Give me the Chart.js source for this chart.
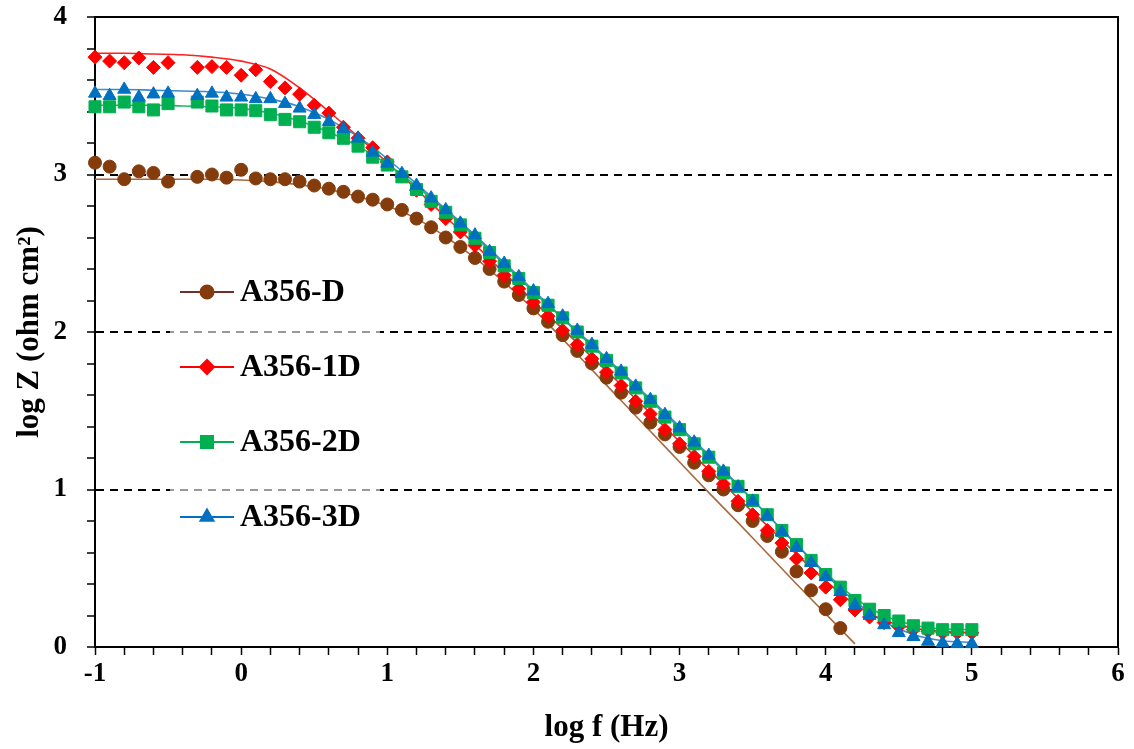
<!DOCTYPE html>
<html lang="en">
<head>
<meta charset="UTF-8">
<title>log Z vs log f</title>
<script src="https://cdn.jsdelivr.net/npm/chart.js"></script>
<style>
    html, body { margin: 0; padding: 0; background: #fff; }
    #wrap { width: 1134px; height: 749px; }
</style>
</head>
<body>
<div id="wrap"><canvas id="bodeChart" width="1134" height="749"></canvas></div>
<script>
    // measured points, log f (Hz) -- no point at -0.4
    const logF = [-1, -0.9, -0.8, -0.7, -0.6, -0.5, -0.3, -0.2, -0.1, 0,
        0.1, 0.2, 0.3, 0.4, 0.5, 0.6, 0.7, 0.8, 0.9, 1.0,
        1.1, 1.2, 1.3, 1.4, 1.5, 1.6, 1.7, 1.8, 1.9, 2.0,
        2.1, 2.2, 2.3, 2.4, 2.5, 2.6, 2.7, 2.8, 2.9, 3.0,
        3.1, 3.2, 3.3, 3.4, 3.5, 3.6, 3.7, 3.8, 3.9, 4.0,
        4.1, 4.2, 4.3, 4.4, 4.5, 4.6, 4.7, 4.8, 4.9, 5.0];

    const zD = [3.075, 3.05, 2.97, 3.02, 3.01, 2.955, 2.985, 3.00, 2.98, 3.03,
        2.975, 2.97, 2.97, 2.955, 2.93, 2.91, 2.89, 2.86, 2.84, 2.81,
        2.775, 2.72, 2.665, 2.60, 2.54, 2.47, 2.40, 2.32, 2.235, 2.15,
        2.065, 1.98, 1.88, 1.80, 1.71, 1.615, 1.52, 1.425, 1.35, 1.27,
        1.17, 1.09, 1.00, 0.90, 0.80, 0.705, 0.605, 0.48, 0.36, 0.24,
        0.12, null, null, null, null, null, null, null, null, null];

    const z1D = [3.745, 3.72, 3.71, 3.74, 3.68, 3.71, 3.68, 3.685, 3.68, 3.63,
        3.665, 3.59, 3.55, 3.51, 3.44, 3.39, 3.30, 3.23, 3.17, 3.08,
        2.99, 2.90, 2.81, 2.72, 2.635, 2.55, 2.45, 2.36, 2.275, 2.19,
        2.10, 2.01, 1.92, 1.83, 1.745, 1.66, 1.56, 1.48, 1.38, 1.29,
        1.21, 1.115, 1.035, 0.925, 0.84, 0.74, 0.66, 0.56, 0.47, 0.38,
        0.30, 0.235, 0.19, 0.155, 0.13, 0.11, 0.10, 0.09, 0.09, 0.09];

    const z2D = [3.43, 3.43, 3.46, 3.43, 3.41, 3.45, 3.46, 3.435, 3.41, 3.41,
        3.405, 3.38, 3.35, 3.335, 3.30, 3.265, 3.23, 3.18, 3.11, 3.06,
        2.985, 2.905, 2.83, 2.76, 2.68, 2.595, 2.505, 2.42, 2.34, 2.25,
        2.17, 2.09, 2.00, 1.91, 1.82, 1.74, 1.645, 1.56, 1.46, 1.38,
        1.29, 1.205, 1.105, 1.02, 0.93, 0.84, 0.74, 0.65, 0.55, 0.46,
        0.38, 0.295, 0.24, 0.20, 0.165, 0.135, 0.12, 0.11, 0.11, 0.11];

    const z3D = [3.515, 3.50, 3.54, 3.49, 3.51, 3.515, 3.50, 3.515, 3.49, 3.49,
        3.48, 3.48, 3.45, 3.42, 3.38, 3.335, 3.29, 3.23, 3.14, 3.07,
        3.005, 2.93, 2.85, 2.775, 2.69, 2.615, 2.51, 2.435, 2.35, 2.26,
        2.18, 2.10, 2.01, 1.92, 1.83, 1.75, 1.655, 1.57, 1.475, 1.39,
        1.30, 1.215, 1.115, 1.015, 0.925, 0.83, 0.73, 0.63, 0.535, 0.445,
        0.35, 0.265, 0.20, 0.14, 0.09, 0.065, 0.035, 0.025, 0.02, 0.02];

    // fitted curves (equivalent circuit)
    const fitF = [-1, -0.8, -0.6, -0.4, -0.2, 0, 0.2, 0.4, 0.6, 0.8,
        1.0, 1.2, 1.4, 1.6, 1.8, 2.0, 2.2, 2.4, 2.6, 2.8,
        3.0, 3.2, 3.4, 3.6, 3.8, 4.0, 4.2, 4.4, 4.6, 4.8, 5.0];

    const fitD = [2.97, 2.97, 2.97, 2.97, 2.97, 2.965, 2.955, 2.935, 2.905, 2.86,
        2.80, 2.72, 2.605, 2.47, 2.315, 2.145, 1.955, 1.76, 1.565, 1.37,
        1.175, 0.98, 0.79, 0.595, 0.40, 0.21, 0.02, null, null, null, null];

    const fit1D = [3.77, 3.77, 3.765, 3.76, 3.745, 3.72, 3.67, 3.55, 3.40, 3.24,
        3.075, 2.905, 2.73, 2.555, 2.375, 2.195, 2.02, 1.84, 1.665, 1.485,
        1.305, 1.125, 0.945, 0.77, 0.59, 0.42, 0.27, 0.17, 0.12, 0.10, 0.09];

    const fit2D = [3.44, 3.44, 3.44, 3.435, 3.43, 3.42, 3.39, 3.34, 3.27, 3.18,
        3.065, 2.925, 2.77, 2.605, 2.43, 2.255, 2.085, 1.91, 1.74, 1.565,
        1.39, 1.21, 1.025, 0.84, 0.65, 0.47, 0.31, 0.20, 0.14, 0.115, 0.11];

    const fit3D = [3.54, 3.54, 3.535, 3.53, 3.525, 3.51, 3.48, 3.43, 3.35, 3.24,
        3.10, 2.94, 2.78, 2.615, 2.44, 2.265, 2.09, 1.92, 1.75, 1.575,
        1.40, 1.22, 1.03, 0.84, 0.65, 0.46, 0.29, 0.16, 0.08, 0.04, 0.03];

    function pts(xs, ys) {
        return xs.map((x, i) => ({ x: x, y: ys[i] }));
    }

    const serif = "'Liberation Serif', 'Times New Roman', serif";
    Chart.defaults.font.family = serif;
    Chart.defaults.color = '#000';

    function markerSet(label, ys, color, style, r, order, legendLine) {
        return {
            label: label,
            data: pts(logF, ys),
            showLine: false,
            pointStyle: style,
            pointRadius: r,
            pointBackgroundColor: color,
            pointBorderColor: color,
            pointBorderWidth: 1,
            clip: false,
            order: order,
            legendLine: legendLine
        };
    }

    function fitSet(ys, color, order) {
        return {
            data: pts(fitF, ys),
            showLine: true,
            borderColor: color,
            borderWidth: 1.6,
            pointRadius: 0,
            cubicInterpolationMode: 'monotone',
            clip: false,
            order: order,
            isFit: true
        };
    }

    const isMajor = v => Math.abs(v - Math.round(v)) < 1e-6;

    // top/right frame + light box behind the legend
    const framePlugin = {
        id: 'frame',
        beforeDatasetsDraw(chart) {
            const { ctx, chartArea: a } = chart;
            ctx.save();
            ctx.fillStyle = 'rgba(255,255,255,0.6)';
            ctx.fillRect(a.left + 75, a.top + 250, 210, 275);
            ctx.strokeStyle = '#000';
            ctx.lineWidth = 2;
            ctx.beginPath();
            ctx.moveTo(a.left, a.top);
            ctx.lineTo(a.right, a.top);
            ctx.lineTo(a.right, a.bottom);
            ctx.stroke();
            ctx.restore();
        }
    };

    const legendPlugin = {
        id: 'insideLegend',
        afterDatasetsDraw(chart) {
            const { ctx, chartArea: a } = chart;
            const sets = chart.data.datasets.filter(d => !d.isFit);
            ctx.save();
            sets.forEach((ds, i) => {
                const y = a.top + 275 + i * 75;
                const x0 = a.left + 85;
                ctx.strokeStyle = ds.legendLine;
                ctx.lineWidth = 2;
                ctx.beginPath();
                ctx.moveTo(x0, y);
                ctx.lineTo(x0 + 54, y);
                ctx.stroke();
                ctx.fillStyle = ds.pointBackgroundColor;
                ctx.strokeStyle = ds.pointBorderColor;
                Chart.helpers.drawPoint(ctx, {
                    pointStyle: ds.pointStyle,
                    radius: ds.pointRadius,
                    borderWidth: 1
                }, x0 + 27, y);
                ctx.fillStyle = '#000';
                ctx.font = 'bold 32px ' + serif;
                ctx.textAlign = 'left';
                ctx.textBaseline = 'middle';
                ctx.fillText(ds.label, x0 + 60, y + 1);
            });
            ctx.restore();
        }
    };

    new Chart(document.getElementById('bodeChart'), {
        type: 'scatter',
        data: {
            datasets: [
                markerSet('A356-D', zD, '#843C0C', 'circle', 6.5, 4, '#70302a'),
                markerSet('A356-1D', z1D, '#FF0000', 'rectRot', 7, 3, '#FF0000'),
                markerSet('A356-2D', z2D, '#00B050', 'rect', 8.5, 2, '#00B050'),
                markerSet('A356-3D', z3D, '#0070C0', 'triangle', 7.5, 1, '#0070C0'),
                fitSet(fitD, '#A8693F', 8),
                fitSet(fit1D, '#FF2020', 7),
                fitSet(fit2D, '#20B860', 6),
                fitSet(fit3D, '#3C8AD0', 5)
            ]
        },
        options: {
            responsive: false,
            animation: false,
            layout: { padding: { left: 0, right: 16, top: 17, bottom: 0 } },
            plugins: {
                legend: { display: false },
                tooltip: { enabled: false }
            },
            scales: {
                x: {
                    type: 'linear',
                    min: -1,
                    max: 6,
                    afterFit: s => { s.height = 102; s.paddingLeft = 0; s.paddingRight = 0; },
                    ticks: {
                        stepSize: 0.2,
                        autoSkip: false,
                        maxRotation: 0,
                        padding: 3,
                        font: { size: 27, weight: 'bold' },
                        callback: v => isMajor(v) ? Math.round(v) : ''
                    },
                    grid: {
                        drawOnChartArea: false,
                        tickLength: 8,
                        tickColor: '#000',
                        tickWidth: 1.5
                    },
                    border: { color: '#000', width: 2 },
                    title: {
                        display: true,
                        text: 'log f (Hz)',
                        font: { size: 31, weight: 'bold' },
                        padding: { top: 0, bottom: 2 }
                    }
                },
                y: {
                    min: 0,
                    max: 4,
                    afterFit: s => { s.width = 95; s.paddingTop = 0; s.paddingBottom = 0; },
                    ticks: {
                        stepSize: 0.2,
                        autoSkip: false,
                        padding: 20,
                        font: { size: 27, weight: 'bold' },
                        callback: v => isMajor(v) ? Math.round(v) : ''
                    },
                    grid: {
                        color: c => {
                            const v = c.tick ? c.tick.value : 0;
                            return (isMajor(v) && v > 0.5 && v < 3.5) ? '#000' : 'rgba(0,0,0,0)';
                        },
                        lineWidth: 2,
                        tickLength: 8,
                        tickColor: '#000',
                        tickWidth: 1.5
                    },
                    border: { color: '#000', width: 2, dash: [8, 6] },
                    title: {
                        display: true,
                        text: 'log Z (ohm cm²)',
                        font: { size: 31, weight: 'bold' },
                        padding: { top: 11, bottom: 0 }
                    }
                }
            }
        },
        plugins: [framePlugin, legendPlugin]
    });
</script>
</body>
</html>
